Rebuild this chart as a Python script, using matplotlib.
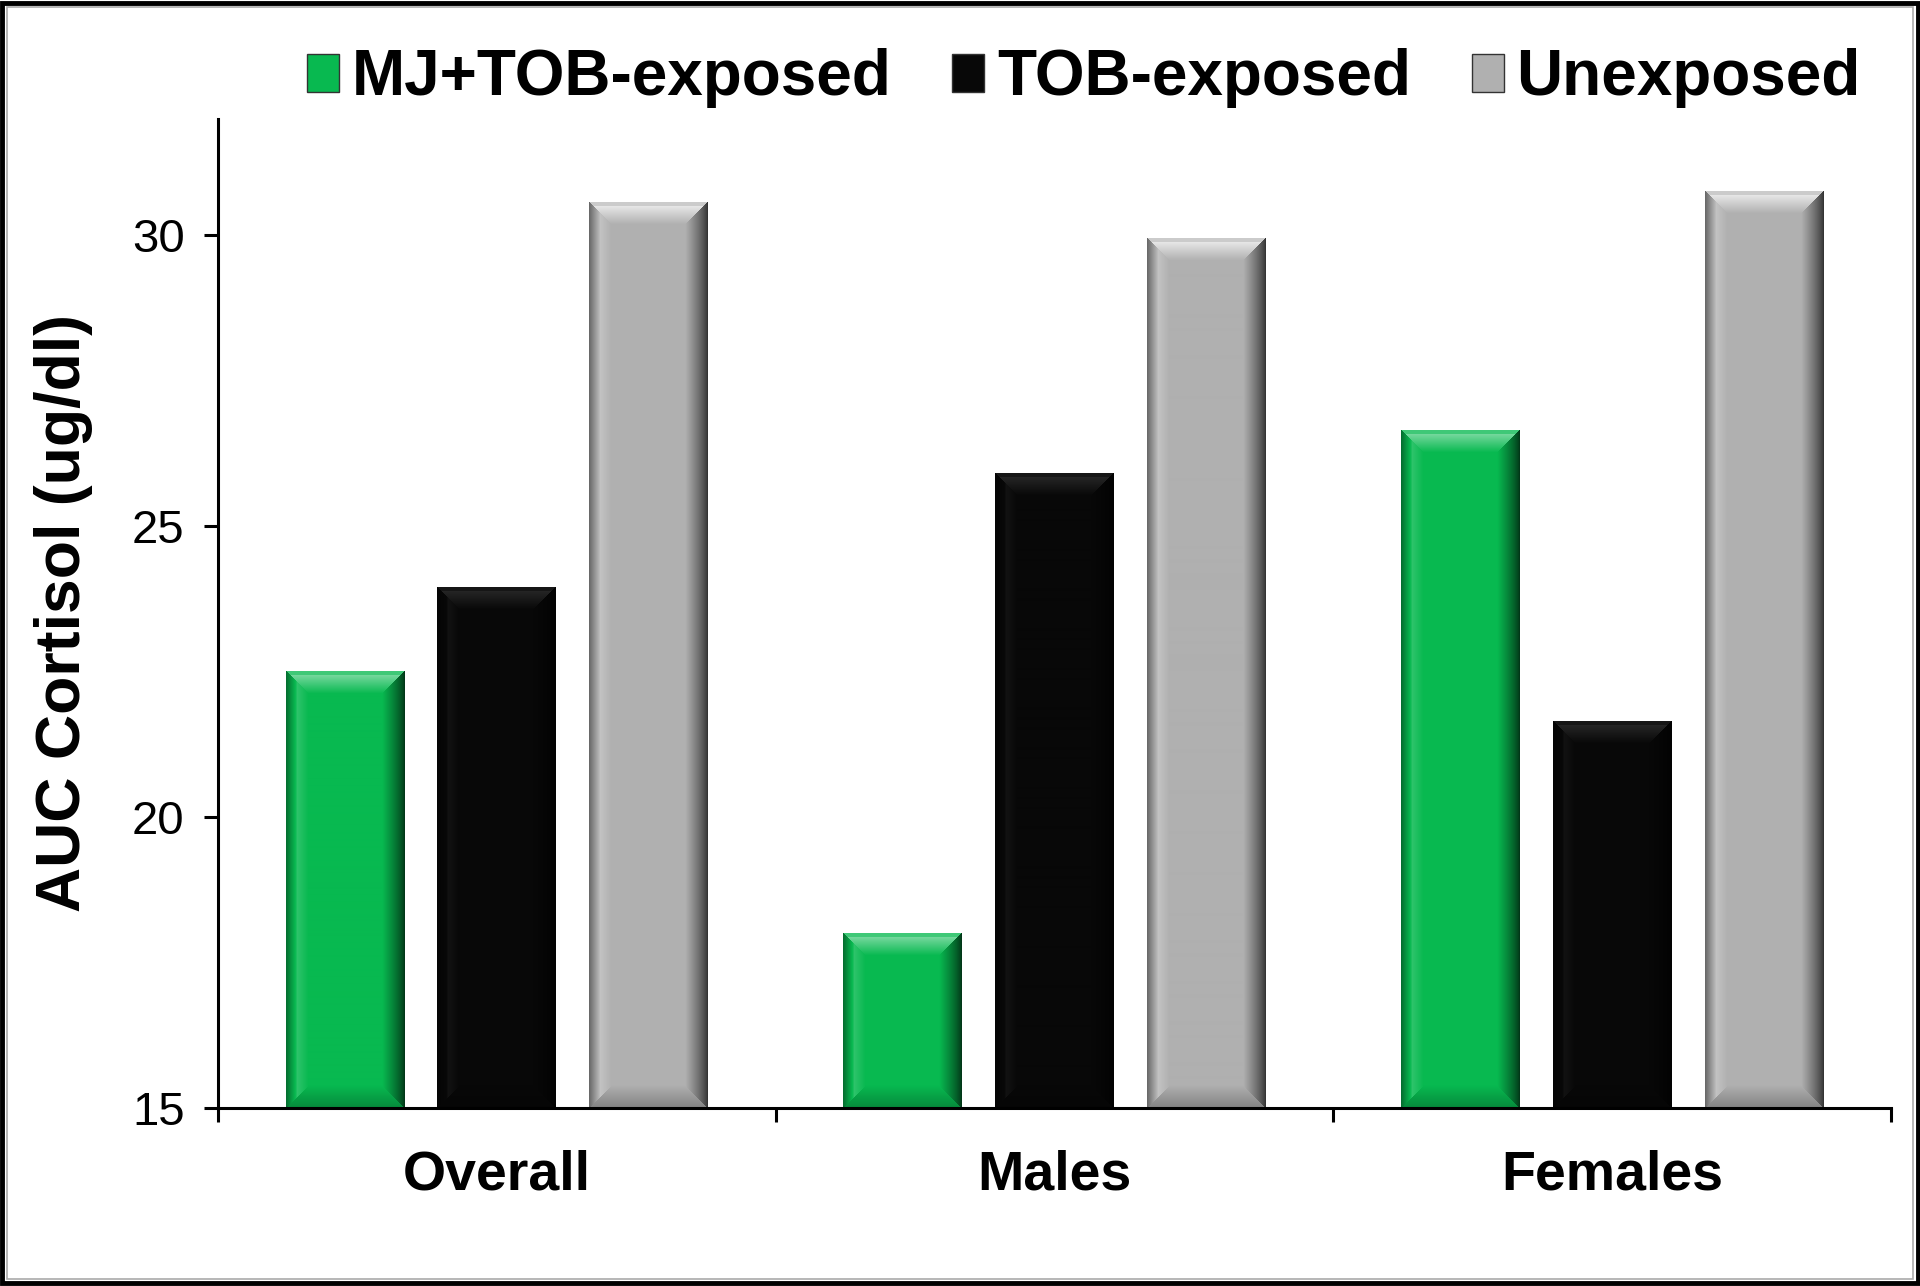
"""
AUC cortisol by exposure group, bevelled bar chart
"""

import numpy as np
import matplotlib
matplotlib.use('Agg')
import matplotlib.pyplot as plt
from matplotlib.patches import Patch, Rectangle
from matplotlib.colors import to_rgb

plt.rcParams['font.family'] = ['Liberation Sans', 'DejaVu Sans']

groups = ['Overall', 'Males', 'Females']
series = ['MJ+TOB-exposed', 'TOB-exposed', 'Unexposed']
mj_tob = [22.5, 18.0, 26.65]
tob = [23.95, 25.9, 21.65]
unexposed = [30.57, 29.94, 30.76]
colors = ['#08b950', '#080808', '#b0b0b0']
light_k = [0.45, 0.12, 0.7]   # how much the bevel lightens each colour
yticks = [15, 20, 25, 30]


def bevel_image(base, k, nh, nw, b):
    """RGB array that mimics the bevelled Excel bar."""
    c = np.array(to_rgb(base))
    i = np.arange(nh)[:, None] * np.ones((1, nw))
    j = np.ones((nh, 1)) * np.arange(nw)[None, :]
    d = np.stack([j, nw - 1 - j, i, nh - 1 - i])
    side = np.argmin(d, axis=0)
    m = np.min(d, axis=0)
    t = np.clip(m / b, 0, 1)
    # left: dark edge, light strip
    fl = np.where(t < 0.5, 0.6 + 1.0 * t, 1.1 + (0.5 - t) * 0.2)
    # right: darkening towards the edge
    fr = 0.3 + 0.7 * t ** 0.8
    # top: light band
    ft = np.where(t < 0.15, 1.15, 1.3 - 0.3 * (t - 0.15) / 0.85)
    # bottom: slightly dark
    fb = 0.75 + 0.25 * t
    f = np.choose(side, [fl, fr, ft, fb])
    f = np.where(m >= b, 1.0, f)
    img = np.empty((nh, nw, 3))
    for ch in range(3):
        cc = c[ch]
        up = cc + (1 - cc) * (f - 1) * k / 0.3
        dn = cc * f
        img[:, :, ch] = np.where(f > 1, up, dn)
    return np.clip(img, 0, 1)


fig = plt.figure(figsize=(19.2, 12.86), dpi=100)
ax = fig.add_axes([0.1135, 0.1384, 0.8715, 0.7691])
ax.set_xlim(-0.5, 2.5)
ax.set_ylim(15, 32)

x = np.arange(len(groups))
width = 0.213
step = 0.272
data = [mj_tob, tob, unexposed]

fig.canvas.draw()
px_x = ax.transData.transform((1, 0))[0] - ax.transData.transform((0, 0))[0]
px_y = ax.transData.transform((0, 1))[1] - ax.transData.transform((0, 0))[1]

for s, (vals, col) in enumerate(zip(data, colors)):
    pos = x + (s - 1) * step
    bars = ax.bar(pos, np.array(vals) - 15, width, bottom=15, color=col,
                  edgecolor='none', label=series[s], zorder=2)
    for rect in bars:
        x0, y0 = rect.get_x(), rect.get_y()
        w, h = rect.get_width(), rect.get_height()
        nw = int(round(w * px_x))
        nh = int(round(h * px_y))
        img = bevel_image(col, light_k[s], nh, nw, 22)
        ax.imshow(img, extent=(x0, x0 + w, y0, y0 + h), aspect='auto',
                  interpolation='bilinear', zorder=3)

ax.set_xlim(-0.5, 2.5)
ax.set_ylim(15, 32)

for side in ['top', 'right']:
    ax.spines[side].set_visible(False)
for side in ['left', 'bottom']:
    ax.spines[side].set_linewidth(2.2)
    ax.spines[side].set_zorder(4)

ax.set_yticks(yticks)
ax.set_yticklabels([str(v) for v in yticks], fontsize=34)
ax.tick_params(axis='y', length=10, width=2.2, pad=14)

ax.set_xticks([-0.5, 0.5, 1.5, 2.5])
ax.set_xticklabels([])
ax.set_xticks(x, minor=True)
ax.set_xticklabels(groups, minor=True, fontsize=40, fontweight='bold')
ax.tick_params(axis='x', which='major', length=10, width=2.2)
ax.tick_params(axis='x', which='minor', length=0, pad=30)

ax.set_ylabel('AUC Cortisol (ug/dl)', fontsize=45, fontweight='bold', labelpad=28)

handles = [Patch(facecolor=c, edgecolor='#333333', linewidth=1) for c in colors]
fig.legend(handles, series, loc='center right', bbox_to_anchor=(0.9825, 0.939),
           ncol=3, frameon=False, prop={'size': 46, 'weight': 'bold'},
           handlelength=0.5, handleheight=0.55, handletextpad=0.2,
           columnspacing=0.95, borderaxespad=0)

# figure frame
fig.patches.append(Rectangle((0.0013, 0.002), 0.9974, 0.996, transform=fig.transFigure,
                             fill=False, edgecolor='black', linewidth=3.5))
fig.patches.append(Rectangle((0.0036, 0.0055), 0.993, 0.989, transform=fig.transFigure,
                             fill=False, edgecolor='#aaaaaa', linewidth=1.2))

fig.savefig('out.png', dpi=100)
